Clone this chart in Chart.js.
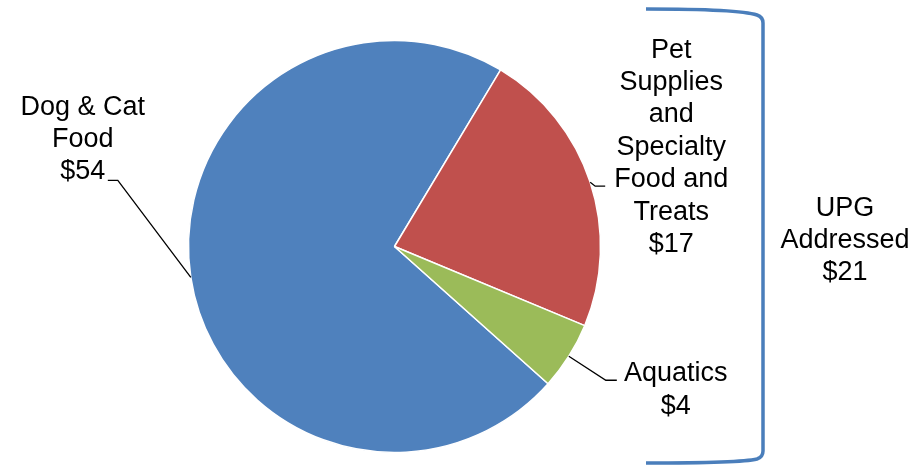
<!DOCTYPE html>
<html>
<head>
<meta charset="utf-8">
<title>Pet market</title>
<script src="https://cdn.jsdelivr.net/npm/chart.js@4/dist/chart.umd.min.js"></script>
<style>
  html, body { margin: 0; padding: 0; background: #fff; }
  #market { display: block; }
</style>
</head>
<body>
<canvas id="market" width="912" height="465"></canvas>
<script>
const categories = ['Dog & Cat Food', 'Pet Supplies and Specialty Food and Treats', 'Aquatics'];
const values = [54, 17, 4];
const sliceColors = ['#4f81bd', '#c0504d', '#9bbb59'];
// how each category name is wrapped on the chart
const labelLines = [
  ['Dog & Cat', 'Food'],
  ['Pet', 'Supplies', 'and', 'Specialty', 'Food and', 'Treats'],
  ['Aquatics']
];
// the bracket total covers everything except dog & cat food
const bracketLines = ['UPG', 'Addressed'];
const bracketTotal = values[1] + values[2];

const FONT = '27px "Liberation Sans", Arial, sans-serif';
const LINE_H = 32.4;

// leader line geometry, relative to the slice edge midpoint
// elbow: where the diagonal ends; tail: the short horizontal end
// text: centre x of the block (from tail end) and baseline offset of the
// line that sits beside the tail (lineIdx, -1 = last line)
const callouts = [
  { elbow: [-73, -97], tail: -10, text: [-25, -1], lineIdx: -1 },
  { elbow: [5, 4], tail: 10, text: [66, 1], lineIdx: 4 },
  { elbow: [37, 24], tail: 11, text: [59, 1], lineIdx: 0 }
];

const calloutPlugin = {
  id: 'callouts',
  afterDatasetsDraw(chart) {
    const ctx = chart.ctx;
    const arcs = chart.getDatasetMeta(0).data;
    ctx.save();
    ctx.font = FONT;
    ctx.fillStyle = '#000';
    ctx.textAlign = 'center';
    ctx.textBaseline = 'alphabetic';
    arcs.forEach((arc, i) => {
      const p = arc.getProps(['x', 'y', 'startAngle', 'endAngle', 'outerRadius'], true);
      const mid = (p.startAngle + p.endAngle) / 2;
      const ex = p.x + Math.cos(mid) * p.outerRadius;
      const ey = p.y + Math.sin(mid) * p.outerRadius;
      const c = callouts[i];
      const bx = ex + c.elbow[0], by = ey + c.elbow[1];
      const tx = bx + c.tail;

      ctx.beginPath();
      ctx.strokeStyle = '#000';
      ctx.lineWidth = 1.3;
      ctx.moveTo(ex, ey);
      ctx.lineTo(bx, by);
      ctx.lineTo(tx, by);
      ctx.stroke();

      const lines = labelLines[i].concat('$' + values[i]);
      const cx = tx + c.text[0];
      const anchorIdx = c.lineIdx < 0 ? lines.length - 1 : c.lineIdx;
      const anchorBase = by + c.text[1];
      lines.forEach((t, k) => {
        ctx.fillText(t, cx, anchorBase + (k - anchorIdx) * LINE_H);
      });
    });

    // brace around the two UPG segments
    ctx.beginPath();
    ctx.strokeStyle = '#4a7ebb';
    ctx.lineWidth = 3.5;
    ctx.lineCap = 'butt';
    ctx.moveTo(646, 9);
    ctx.bezierCurveTo(700, 9, 745, 11, 757, 15);
    ctx.quadraticCurveTo(763, 17, 763, 23);
    ctx.lineTo(763, 451);
    ctx.quadraticCurveTo(763, 457, 757, 459);
    ctx.bezierCurveTo(745, 462, 700, 463, 646, 463);
    ctx.stroke();

    const bl = bracketLines.concat('$' + bracketTotal);
    bl.forEach((t, k) => ctx.fillText(t, 845, 215.5 + k * LINE_H));
    ctx.restore();
  }
};

new Chart(document.getElementById('market'), {
  type: 'pie',
  data: {
    labels: categories,
    datasets: [{
      data: values,
      backgroundColor: sliceColors,
      borderColor: '#ffffff',
      borderWidth: 1.5
    }]
  },
  options: {
    responsive: false,
    animation: false,
    rotation: -228.2,
    radius: 206,
    layout: { padding: { left: 188, right: 311, top: 40, bottom: 12 } },
    plugins: {
      legend: { display: false },
      tooltip: { enabled: false }
    }
  },
  plugins: [calloutPlugin]
});
</script>
</body>
</html>
